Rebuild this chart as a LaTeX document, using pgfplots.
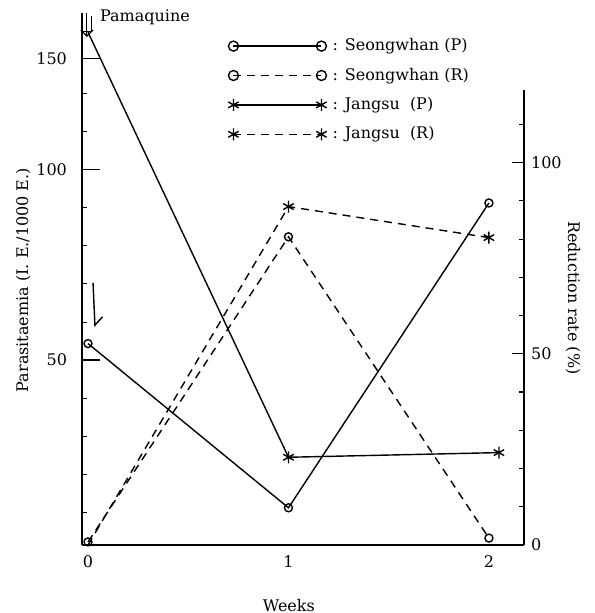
\documentclass[border=0pt]{standalone}
\usepackage{fontspec}
\setmainfont{DejaVu Serif}
\usepackage{pgfplots}
\pgfplotsset{compat=1.18}
\usetikzlibrary{arrows.meta}

\pgfplotstableread{
x y
0 53.1
1 29.2
2 88.6
}\seongP
\pgfplotstableread{
x y
0 165
1 35.1
2.05 35.7
}\jangP
\pgfplotstableread{
x y
0 0.8
1 80.6
2 1.8
}\seongR
\pgfplotstableread{
x y
0 0
1 88.5
2 80.4
}\jangR

\begin{document}
\begin{tikzpicture}[font=\fontsize{8}{9.6}\selectfont]
\path[use as bounding box] (-41pt,-34pt) rectangle (256pt,272.5pt);
\begin{axis}[
  at={(0,0)}, anchor=south west, scale only axis,
  width=221pt, height=266pt,
  xmin=-0.03, xmax=2.175,
  ymode=log, ymin=25.5, ymax=177,
  axis x line*=bottom, axis y line*=left,
  axis line style={line width=0.8pt, -},
  xtick={0,1,2}, xticklabels={0,1,2},
  x tick style={draw=none},
  ytick={50,100,150}, yticklabels={50,100,150},
  minor ytick={28.7,33.0,37.9,43.5,57.4,66.0,75.8,87.1,114.9,132.0},
  tick align=inside,
  major tick length=9pt, minor tick length=2.5pt,
  every tick/.style={line width=0.6pt, black},
  xticklabel style={yshift=-2pt},
  yticklabel style={xshift=-4pt},
  /pgf/number format/assume math mode=true,
  xlabel={Weeks},
  xlabel style={at={(axis description cs:0.468,-0.113)}, anchor=center},
  ylabel={Parasitaemia (I. E./1000 E.)},
  ylabel style={at={(axis description cs:-0.133,0.498)}, anchor=center, rotate=0},
  clip=false,
]
\addplot[line width=0.7pt, mark=o, mark size=2pt] table {\seongP};
\addplot[line width=0.7pt, mark=asterisk, mark size=3pt, mark indices={2,3}] table {\jangP};
\node[font=\fontsize{8}{9.6}\selectfont] at (rel axis cs:0.1425,0.9925) {Pamaquine};
\draw[line width=0.6pt] (rel axis cs:0.0,0.995) -- (rel axis cs:0.0,0.965) -- (rel axis cs:0.022,0.965) -- (rel axis cs:0.022,0.995);
\draw[line width=0.6pt,-{Straight Barb[length=3pt]}] (rel axis cs:0.011,1.0) -- (rel axis cs:0.011,0.955);
\draw[line width=0.7pt,-{Straight Barb[left,length=4pt]}] (rel axis cs:0.025,0.4925) -- (rel axis cs:0.0294,0.41);
\end{axis}
\begin{axis}[
  at={(0,0)}, anchor=south west, scale only axis,
  width=221pt, height=227.5pt,
  xmin=-0.03, xmax=2.175,
  ymin=0, ymax=119,
  axis x line=none, axis y line*=right,
  axis line style={line width=0.8pt, -},
  ytick={0,50,100},
  minor ytick={10,20,30,40,60,70,80,90,110},
  tick align=inside,
  major tick length=6pt, minor tick length=2.5pt,
  every tick/.style={line width=0.6pt, black},
  /pgf/number format/assume math mode=true,
  ylabel={Reduction rate (\%)},
  ylabel style={at={(axis description cs:1.111,0.543)}, anchor=center, rotate=180},
  clip=false,
  legend image code/.code={\draw[#1] plot coordinates {(0pt,0pt) (44pt,0pt)};},
  legend style={draw=none, fill=none, at={(axis description cs:0.330,1.127)}, anchor=north west,
    inner sep=0pt, row sep=1.2pt, legend cell align=left,
    nodes={inner sep=3pt, text height=6pt, text depth=1.5pt, font=\fontsize{8}{9.6}\selectfont}},
]
\addplot[line width=0.7pt, dash pattern=on 4pt off 3pt, mark=o, mark size=2pt, mark options={solid}, forget plot] table {\seongR};
\addplot[line width=0.7pt, dash pattern=on 4pt off 3pt, mark=asterisk, mark size=3pt, mark options={solid}, mark indices={2,3}, forget plot] table {\jangR};
\addlegendimage{line width=0.7pt, mark=o, mark size=2.5pt}
\addlegendentry{: Seongwhan (P)}
\addlegendimage{line width=0.7pt, dash pattern=on 4pt off 3pt, mark=o, mark size=2.5pt, mark options={solid}}
\addlegendentry{: Seongwhan (R)}
\addlegendimage{line width=0.7pt, mark=asterisk, mark size=3pt}
\addlegendentry{: Jangsu\ \ (P)}
\addlegendimage{line width=0.7pt, dash pattern=on 4pt off 3pt, mark=asterisk, mark size=3pt, mark options={solid}}
\addlegendentry{: Jangsu\ \ (R)}
\end{axis}
\end{tikzpicture}
\end{document}
